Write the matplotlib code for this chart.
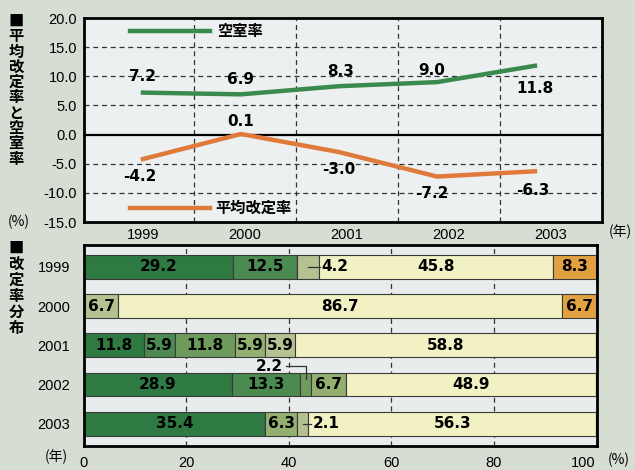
import numpy as np
import matplotlib.pyplot as plt

plt.rcParams['axes.unicode_minus'] = False

years = ['1999', '2000', '2001', '2002', '2003']
vacancy = [7.2, 6.9, 8.3, 9.0, 11.8]       # 空室率
revision = [-4.2, 0.1, -3.0, -7.2, -6.3]   # 平均改定率

# 改定率分布 (%) -- one list per band, darkest green first, orange last
band1 = [29.2, 0.0, 11.8, 28.9, 35.4]
band2 = [12.5, 0.0, 5.9, 13.3, 0.0]
band3 = [0.0, 0.0, 11.8, 2.2, 0.0]
band4 = [0.0, 0.0, 5.9, 6.7, 6.3]
band5 = [4.2, 6.7, 5.9, 0.0, 2.1]
band6 = [45.8, 86.7, 58.8, 48.9, 56.3]
band7 = [8.3, 6.7, 0.0, 0.0, 0.0]
bands = [band1, band2, band3, band4, band5, band6, band7]
band_colors = ['#2f7a43', '#4b8a50', '#6e9b5c', '#93b070', '#b6c192', '#f1f1c3', '#e2a140']

BG = '#d6ded3'
GREEN = '#3b8a4d'
ORANGE = '#e07a3a'
GRID = '#333333'
W, H = 635, 470

jp = 'Noto Sans CJK JP'
num = 'DejaVu Sans'
tick = 'Liberation Sans'


def px(x, y):
    return x / W, 1 - y / H


fig = plt.figure(figsize=(W / 100, H / 100), dpi=100)
fig.patch.set_facecolor(BG)

# ---------- top: average revision rate and vacancy rate ----------
ax1 = fig.add_axes([84 / W, 248 / H, 518 / W, 204 / H])
ax1.set_facecolor('#edf0f1')
x = np.arange(len(years))
ax1.set_xlim(-0.602, 4.684)
ax1.set_ylim(-15, 20)

for v in [-10, -5, 5, 10, 15]:
    ax1.axhline(v, color=GRID, lw=0.9, ls=(0, (4, 3)), zorder=1)
for k in range(len(years) - 1):
    ax1.axvline((k + 0.5) * 1.04, color=GRID, lw=0.9, ls=(0, (4, 3)), zorder=1)
ax1.axhline(0, color='black', lw=1.6, zorder=1)

ax1.plot(x, vacancy, color=GREEN, lw=3.2, zorder=3)
ax1.plot(x, revision, color=ORANGE, lw=3.2, zorder=3)

green_off = [(0, 16), (0, 15), (2, 15), (-5, 12), (0, -23)]
orange_off = [(-3, -17), (0, 12), (0, -17), (-5, -17), (-2, -19)]
for xi, v, off in zip(x, vacancy, green_off):
    ax1.annotate(f'{v:.1f}', (xi, v), xytext=off, textcoords='offset pixels',
                 ha='center', va='center', fontsize=11, fontweight='bold', family=num)
for xi, v, off in zip(x, revision, orange_off):
    ax1.annotate(f'{v:.1f}', (xi, v), xytext=off, textcoords='offset pixels',
                 ha='center', va='center', fontsize=11, fontweight='bold', family=num)

# line keys inside the plot
ax1.plot([0.089, 0.243], [0.936, 0.936], color=GREEN, lw=3.2, transform=ax1.transAxes)
ax1.text(0.256, 0.936, '空室率', transform=ax1.transAxes, va='center',
         fontsize=11, fontweight='bold', family=jp)
ax1.plot([0.089, 0.243], [0.069, 0.069], color=ORANGE, lw=3.2, transform=ax1.transAxes)
ax1.text(0.253, 0.069, '平均改定率', transform=ax1.transAxes, va='center',
         fontsize=11, fontweight='bold', family=jp)

yt = np.arange(-15, 21, 5)
ax1.set_yticks(yt)
ax1.set_yticklabels([f'{v:.1f}' for v in yt], family=tick, fontsize=10.5)
ax1.set_xticks(x * 1.04)
ax1.set_xticklabels(years, family=tick, fontsize=10.5)
ax1.tick_params(length=0, pad=4)
ax1.tick_params(axis='y', pad=5)
for s in ax1.spines.values():
    s.set_linewidth(2)

# ---------- bottom: distribution of revision rates ----------
ax2 = fig.add_axes([84 / W, 24 / H, 513 / W, 201 / H])
ax2.set_facecolor('#e8ecec')
ax2.set_xlim(0, 100.2)
ax2.set_ylim(4.57, -0.56)
for v in [20, 40, 60, 80]:
    ax2.axvline(v, color=GRID, lw=0.9, ls=(0, (4, 3)), zorder=0)

rows = np.arange(len(years))
left = np.zeros(len(years))
for b, (vals, col) in enumerate(zip(bands, band_colors)):
    vals = np.array(vals)
    ax2.barh(rows, vals, left=left, height=0.61, color=col,
             edgecolor='#3a3a3a', lw=0.8, zorder=2)
    for r in rows:
        if vals[r] == 0:
            continue
        start, end = left[r], left[r] + vals[r]
        mid = (start + end) / 2
        label = f'{vals[r]:.1f}'
        if vals[r] < 3:
            if b == 2:
                # call-out above the bar
                ax2.plot([39.5, mid, mid], [r - 0.47, r - 0.47, r - 0.13],
                         color='#333', lw=0.9, zorder=3)
                ax2.text(38.9, r - 0.47, label, ha='right', va='center',
                         fontsize=11, fontweight='bold', family=num)
            else:
                ax2.plot([mid, end + 0.6], [r, r], color='#333', lw=0.9, zorder=3)
                ax2.text(end + 0.9, r, label, ha='left', va='center',
                         fontsize=11, fontweight='bold', family=num)
        elif b == 4 and r == 0:
            ax2.plot([mid, end + 0.2], [r, r], color='#333', lw=0.9, zorder=3)
            ax2.text(end + 0.4, r, label, ha='left', va='center',
                     fontsize=11, fontweight='bold', family=num)
        else:
            ax2.text(mid, r, label, ha='center', va='center',
                     fontsize=11, fontweight='bold', family=num, zorder=4)
    left += vals

ax2.set_yticks(rows)
ax2.set_yticklabels(years, family=tick, fontsize=10.5)
ax2.set_xticks(np.arange(0, 101, 20))
ax2.set_xticklabels([str(v) for v in range(0, 101, 20)], family=tick, fontsize=10.5)
ax2.get_xticklabels()[-1].set_horizontalalignment('right')
ax2.tick_params(length=0)
ax2.tick_params(axis='y', pad=10)
ax2.tick_params(axis='x', pad=7)
for s in ax2.spines.values():
    s.set_linewidth(2)

# vertical section titles
for i, ch in enumerate('■平均改定率と空室率'):
    fig.text(*px(16, 21 + i * 15.3), ch, ha='center', va='center',
             fontsize=11, fontweight='bold', family=jp)
for i, ch in enumerate('■改定率分布'):
    fig.text(*px(16, 248 + i * 16), ch, ha='center', va='center',
             fontsize=11, fontweight='bold', family=jp)

# units
fig.text(*px(19, 222), '(%)', ha='center', va='center', fontsize=10, family=jp)
fig.text(*px(620, 232), '(年)', ha='center', va='center', fontsize=10, family=jp)
fig.text(*px(56, 457), '(年)', ha='center', va='center', fontsize=10, family=jp)
fig.text(*px(619, 460), '(%)', ha='center', va='center', fontsize=10, family=jp)

fig.savefig('out.png', dpi=100, facecolor=BG)
